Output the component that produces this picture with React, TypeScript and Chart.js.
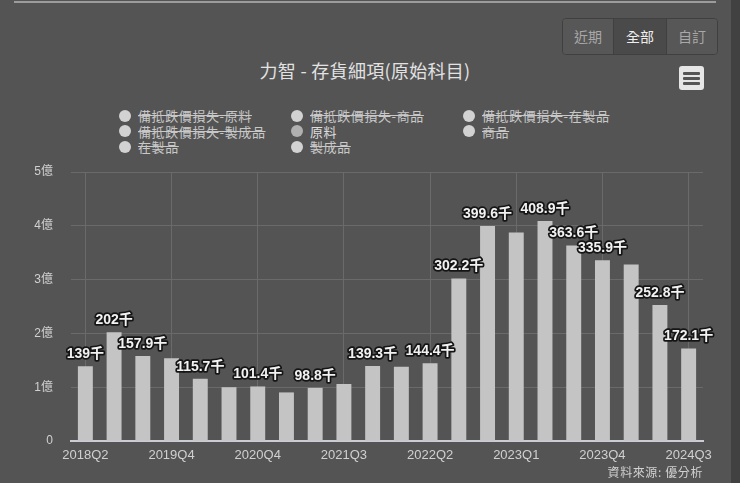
import { useEffect, useRef } from 'react';
import { Chart, ChartConfiguration, Plugin, registerables } from 'chart.js';

// 原料, in the same unit as the bar labels (100 = 1億 on the axis)
const quarters = [
  '2018Q2', '2018Q4', '2019Q2', '2019Q4', '2020Q2', '2020Q3', '2020Q4', '2021Q1',
  '2021Q2', '2021Q3', '2021Q4', '2022Q1', '2022Q2', '2022Q3', '2022Q4', '2023Q1',
  '2023Q2', '2023Q3', '2023Q4', '2024Q1', '2024Q2', '2024Q3',
];
const rawMaterial = [
  139, 202, 157.9, 154, 115.7, 100, 101.4, 90.3, 98.8, 106, 139.3, 138, 144.4,
  302.2, 399.6, 387.5, 408.9, 363.6, 335.9, 328, 252.8, 172.1,
];
// bars whose value label is drawn (the others were hidden for overlap)
const labelledBars = [0, 1, 2, 4, 6, 8, 10, 12, 13, 14, 16, 17, 18, 20, 21];
const yMax = 500;
const yStep = 100;

const legendNames = [
  '備抵跌價損失-原料', '備抵跌價損失-商品', '備抵跌價損失-在製品',
  '備抵跌價損失-製成品', '原料', '商品',
  '在製品', '製成品',
];
const visibleSeries = ['原料'];
const rangeButtons = ['近期', '全部', '自訂'];
const activeRange = '全部';

const FONT = '"Liberation Sans", "Noto Sans CJK TC", sans-serif';
const CJK = '"Noto Sans CJK TC", "Liberation Sans", sans-serif';

const barLabels: Plugin<'bar'> = {
  id: 'barLabels',
  afterDatasetsDraw(chart) {
    const { ctx } = chart;
    const meta = chart.getDatasetMeta(0);
    ctx.save();
    ctx.font = `bold 14px ${FONT}`;
    ctx.textAlign = 'center';
    ctx.textBaseline = 'middle';
    ctx.lineJoin = 'round';
    ctx.lineWidth = 3.5;
    ctx.strokeStyle = '#151515';
    ctx.fillStyle = '#f2f2f2';
    labelledBars.forEach(i => {
      const bar = meta.data[i];
      const text = `${rawMaterial[i]}千`;
      ctx.strokeText(text, bar.x, bar.y - 12);
      ctx.fillText(text, bar.x, bar.y - 12);
    });
    ctx.restore();
  },
};

function InventoryChart() {
  const chartRef = useRef<HTMLCanvasElement>(null);
  const chartInstance = useRef<Chart | null>(null);

  useEffect(() => {
    if (!chartRef.current) return;
    Chart.register(...registerables);
    const ctx = chartRef.current.getContext('2d');
    if (!ctx) return;

    const config: ChartConfiguration<'bar'> = {
      type: 'bar',
      data: {
        labels: quarters,
        datasets: [
          {
            label: '原料',
            data: rawMaterial,
            backgroundColor: '#c4c4c4',
            barPercentage: 0.52,
            categoryPercentage: 1,
          },
        ],
      },
      options: {
        responsive: false,
        animation: false,
        layout: { padding: { top: 172, right: 37, left: 0, bottom: 0 } },
        scales: {
          x: {
            afterFit: scale => { scale.height = 42; },
            grid: {
              offset: false,
              drawTicks: false,
              color: c => (c.index % 3 === 0 ? '#6a6a6a' : 'transparent'),
            },
            border: { color: '#ccccd4', width: 2 },
            ticks: {
              autoSkip: false,
              maxRotation: 0,
              padding: 7,
              color: '#d0d0d0',
              font: { family: FONT, size: 13 },
              callback: (_v, i) => (i % 3 === 0 ? quarters[i] : ''),
            },
          },
          y: {
            min: 0,
            max: yMax,
            afterFit: scale => { scale.width = 71; },
            grid: { color: '#6a6a6a', drawTicks: false },
            border: { display: false },
            ticks: {
              stepSize: yStep,
              padding: 18,
              color: '#d0d0d0',
              font: { family: FONT, size: 12 },
              callback: v => (Number(v) === 0 ? '0' : `${Number(v) / 100}億`),
            },
          },
        },
        plugins: {
          legend: { display: false },
          tooltip: { enabled: false },
        },
      },
      plugins: [barLabels],
    };

    if (chartInstance.current) chartInstance.current.destroy();
    chartInstance.current = new Chart(ctx, config);

    return () => {
      if (chartInstance.current) {
        chartInstance.current.destroy();
        chartInstance.current = null;
      }
    };
  }, []);

  return (
    <canvas
      ref={chartRef}
      width={740}
      height={483}
      style={{ position: 'absolute', left: 0, top: 0, width: 740, height: 483 }}
    />
  );
}

export default function App() {
  return (
    <div
      style={{
        position: 'fixed', left: 0, top: 0, width: 740, height: 483,
        background: '#545454', overflow: 'hidden', fontFamily: CJK,
      }}
    >
      <div style={{ position: 'absolute', left: 14, top: 1, width: 702, height: 2, background: '#9c9c9c' }} />
      <div style={{ position: 'absolute', left: 731, top: 0, width: 9, height: 483, background: '#414141' }} />

      <div
        style={{
          position: 'absolute', left: 562, top: 18, height: 35, display: 'flex',
          border: '1px solid #404040', borderRadius: 4, overflow: 'hidden',
        }}
      >
        {rangeButtons.map((b, i) => (
          <div
            key={b}
            style={{
              width: i === 1 ? 52 : 50, lineHeight: '35px', textAlign: 'center', fontSize: 14,
              color: b === activeRange ? '#eeeeee' : '#a8a8a8',
              background: b === activeRange ? '#4a4a4a' : '#575757',
              borderLeft: i > 0 ? '1px solid #404040' : 'none',
            }}
          >
            {b}
          </div>
        ))}
      </div>

      <div
        style={{
          position: 'absolute', left: 0, top: 57, width: 730, textAlign: 'center',
          fontSize: 18, color: '#e2e2e2', letterSpacing: 0.3,
        }}
      >
        力智 - 存貨細項(原始科目)
      </div>

      <div
        style={{
          position: 'absolute', left: 679, top: 66, width: 25, height: 24,
          background: '#e6e6e6', borderRadius: 3,
        }}
      >
        {[6, 11, 16].map(t => (
          <div key={t} style={{ position: 'absolute', left: 4, top: t, width: 17, height: 3, background: '#555', borderRadius: 1 }} />
        ))}
      </div>

      {legendNames.map((name, i) => {
        const shown = visibleSeries.includes(name);
        return (
          <div
            key={name}
            style={{
              position: 'absolute', left: 119 + (i % 3) * 172, top: 107 + Math.floor(i / 3) * 15.5,
              display: 'flex', alignItems: 'center', height: 17, whiteSpace: 'nowrap',
            }}
          >
            <div
              style={{
                flex: '0 0 12px', width: 12, height: 12, borderRadius: 6, marginRight: 7,
                background: shown ? '#b0b0b0' : '#d2d2d2',
              }}
            />
            <span
              style={{
                fontSize: 13, color: shown ? '#dddddd' : '#c8c8c8', letterSpacing: 0.6,
                textDecoration: shown ? 'none' : 'line-through',
              }}
            >
              {name}
            </span>
          </div>
        );
      })}

      <InventoryChart />

      <div
        style={{
          position: 'absolute', right: 37, top: 463, fontSize: 12, color: '#d0d0d0', letterSpacing: 0.6,
        }}
      >
        資料來源: 優分析
      </div>
    </div>
  );
}
